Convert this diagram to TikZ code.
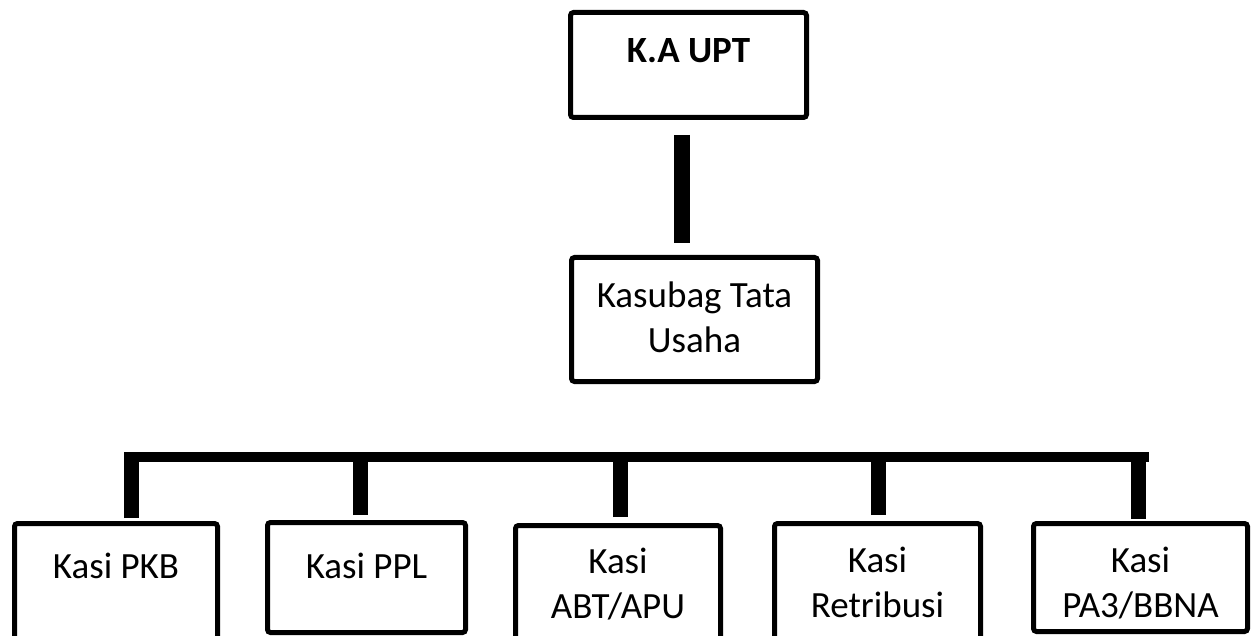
\documentclass[tikz,border=0pt]{standalone}
\usepackage{fontspec}
\setmainfont{Carlito}
\usepackage{tikz}
\usetikzlibrary{shapes.geometric, arrows, calc, positioning}
\tikzstyle{block} = [rectangle, line width=2.5pt, rounded corners=1.5pt, inner sep=0pt, outer sep=0pt, align=center, draw=black, font=\fontsize{18.5}{22.5}\selectfont, anchor=base]
\tikzstyle{tiang} = [line width=8pt, black]
\tikzstyle{cabang} = [line width=7.5pt, black]
\tikzstyle{jalur} = [line width=5pt, black]

\begin{document}
\begin{tikzpicture}[x=0.5pt, y=-0.5pt]
		\useasboundingbox (0,0) rectangle (1252,636);
		\clip (0,0) rectangle (1252,636);
		\node (KaUPT) [block, minimum width=118pt, text height=25.25pt, text depth=27.25pt] at (688.5,63) {\textbf{K.A UPT}};
		\node (Kasubag) [block, minimum width=123pt, text height=47.25pt, text depth=14.75pt] at (694.5,352) {Kasubag Tata\\Usaha};
		\node (KasiPKB) [block, minimum width=101.5pt, text height=27.25pt, text depth=41pt] at (116,578) {Kasi PKB};
		\node (KasiPPL) [block, minimum width=99pt, text height=27.75pt, text depth=27.25pt] at (366.5,578) {Kasi PPL};
		\node (KasiABT) [block, minimum width=102.5pt, text height=46.25pt, text depth=21pt] at (618,618) {Kasi\\ABT/APU};
		\node (KasiRetribusi) [block, minimum width=103pt, text height=46.75pt, text depth=21.5pt] at (877.5,617) {Kasi\\Retribusi};
		\node (KasiPA) [block, minimum width=107pt, text height=46.75pt, text depth=7.25pt] at (1140.5,617) {Kasi\\PA3/BBNA};
		\coordinate (JalurKiri) at (124,457);
		\coordinate (JalurKanan) at (1149,457);
		\draw [tiang] ([xshift=-3.25pt, yshift=-8.75pt]KaUPT.south) -- ([xshift=-6.25pt, yshift=7.25pt]Kasubag.north);
		\draw [jalur] (JalurKiri) -- (JalurKanan);
		\foreach \kasi/\dx/\gap in {KasiPKB/7.75/2.75, KasiPPL/-3/3.75, KasiABT/1.25/4.25, KasiRetribusi/0.5/4.25, KasiPA/-1/2.25}
			\draw [cabang] ([xshift=\dx pt, yshift=\gap pt]\kasi.north) -- ([xshift=\dx pt]\kasi.north |- JalurKiri);
\end{tikzpicture}
\end{document}
